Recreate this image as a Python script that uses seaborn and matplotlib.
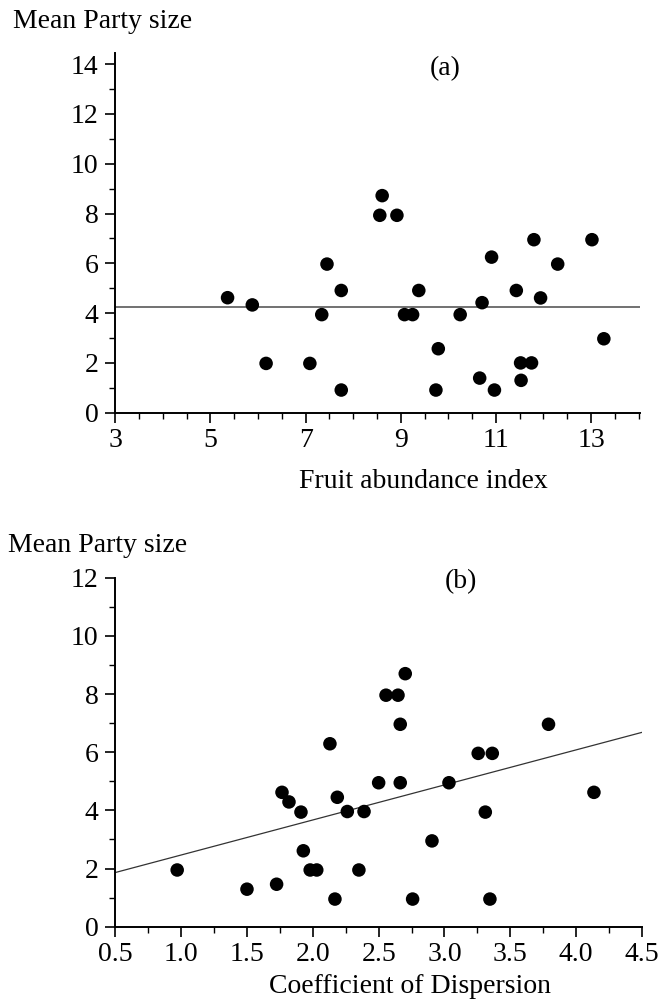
import matplotlib
matplotlib.use("Agg")
import matplotlib.pyplot as plt
import seaborn as sns
import numpy as np
import pandas as pd
from matplotlib.ticker import MultipleLocator

# ---- data (panel a) ----
fruit_abundance = [5.36, 5.88, 6.17, 7.09, 7.34, 7.45, 7.75, 7.75, 8.61, 8.56,
                   8.92, 9.08, 9.25, 9.38, 9.79, 9.74, 10.25, 10.71, 10.91, 10.66,
                   10.97, 11.43, 11.80, 12.30, 11.94, 11.52, 11.75, 11.53, 13.02, 13.27]
party_size_a = [4.62, 4.33, 1.98, 1.98, 3.94, 5.97, 4.91, 0.91, 8.72, 7.93,
                7.93, 3.94, 3.94, 4.91, 2.57, 0.91, 3.94, 4.42, 6.25, 1.39,
                0.91, 4.91, 6.95, 5.97, 4.61, 2.00, 2.00, 1.30, 6.95, 2.97]
mean_line_a = [4.23]

# ---- data (panel b) ----
dispersion = [0.97, 1.50, 1.725, 1.766, 1.819, 1.91, 1.928, 1.98, 2.03, 2.13,
              2.186, 2.168, 2.262, 2.389, 2.35, 2.50, 2.556, 2.647, 2.702, 2.664,
              2.664, 2.758, 2.905, 3.034, 3.256, 3.363, 3.31, 3.345, 3.79, 4.135]
party_size_b = [1.95, 1.29, 1.46, 4.62, 4.29, 3.94, 2.61, 1.95, 1.95, 6.29,
                4.45, 0.95, 3.96, 3.96, 1.95, 4.95, 7.96, 7.96, 8.70, 6.96,
                4.95, 0.95, 2.95, 4.95, 5.96, 5.96, 3.94, 0.95, 6.96, 4.62]
fit_b = [1.26, 1.205]  # intercept, slope

df_a = pd.DataFrame({"x": fruit_abundance, "y": party_size_a})
df_b = pd.DataFrame({"x": dispersion, "y": party_size_b})

sns.set_theme(style="ticks")
plt.rcParams['font.family'] = ['Liberation Serif', 'DejaVu Serif']
plt.rcParams['mathtext.fontset'] = 'stix'

W, H = 658, 1006
fig = plt.figure(figsize=(W / 100, H / 100), dpi=100)

def px_axes(left, top, right, bottom):
    return fig.add_axes([left / W, 1 - bottom / H, (right - left) / W, (bottom - top) / H])

FS = 20

def style(ax):
    sns.despine(ax=ax)
    for s in ("left", "bottom"):
        ax.spines[s].set_linewidth(1.4)
        ax.spines[s].set_color("black")
    ax.tick_params(axis="both", which="major", direction="out", length=7, width=1.2,
                   labelsize=FS, colors="black", pad=4)
    ax.tick_params(axis="y", which="major", pad=5)
    ax.tick_params(axis="both", which="minor", direction="out", length=4, width=1.0, colors="black")
    ax.set_facecolor("white")
    ax.set_xlabel("")
    ax.set_ylabel("")

# ---- panel a ----
ax1 = px_axes(115.3, 53, 640, 412.7)
sns.scatterplot(data=df_a, x="x", y="y", ax=ax1, color="black", s=95,
                edgecolor="none", legend=False, zorder=3)
ax1.axhline(mean_line_a[0], color="#666666", lw=1.3, zorder=2)
ax1.set_xlim(3, 14.03)
ax1.set_ylim(0, 14.45)
ax1.xaxis.set_major_locator(MultipleLocator(2))
ax1.xaxis.set_minor_locator(MultipleLocator(0.5))
ax1.yaxis.set_major_locator(MultipleLocator(2))
ax1.yaxis.set_minor_locator(MultipleLocator(1))
ax1.set_xticks([3, 5, 7, 9, 11, 13])
style(ax1)

# ---- panel b ----
ax2 = px_axes(115.3, 577.7, 642, 926.7)
sns.scatterplot(data=df_b, x="x", y="y", ax=ax2, color="black", s=95,
                edgecolor="none", legend=False, zorder=3)
ax2.set_xlim(0.5, 4.5)
ax2.set_ylim(0, 12)
ax2.axline((0, fit_b[0]), slope=fit_b[1], color="#333333", lw=0.9, zorder=2)
ax2.xaxis.set_major_locator(MultipleLocator(0.5))
ax2.xaxis.set_minor_locator(MultipleLocator(0.25))
ax2.yaxis.set_major_locator(MultipleLocator(2))
ax2.yaxis.set_minor_locator(MultipleLocator(1))
ax2.xaxis.set_major_formatter(matplotlib.ticker.FormatStrFormatter("%.1f"))
style(ax2)

# ---- texts ----
def ftext(x, y, s, ha="left"):
    fig.text(x / W, 1 - y / H, s, ha=ha, va="baseline", fontsize=FS, color="black")

ftext(13, 28, "Mean Party size")
ftext(8, 552, "Mean Party size")
ftext(445, 75, "(a)", ha="center")
ftext(461, 588, "(b)", ha="center")
ftext(423, 488, "Fruit abundance index", ha="center")
ftext(410, 993, "Coefficient of Dispersion", ha="center")

fig.savefig("out.png", dpi=100, facecolor="white")
